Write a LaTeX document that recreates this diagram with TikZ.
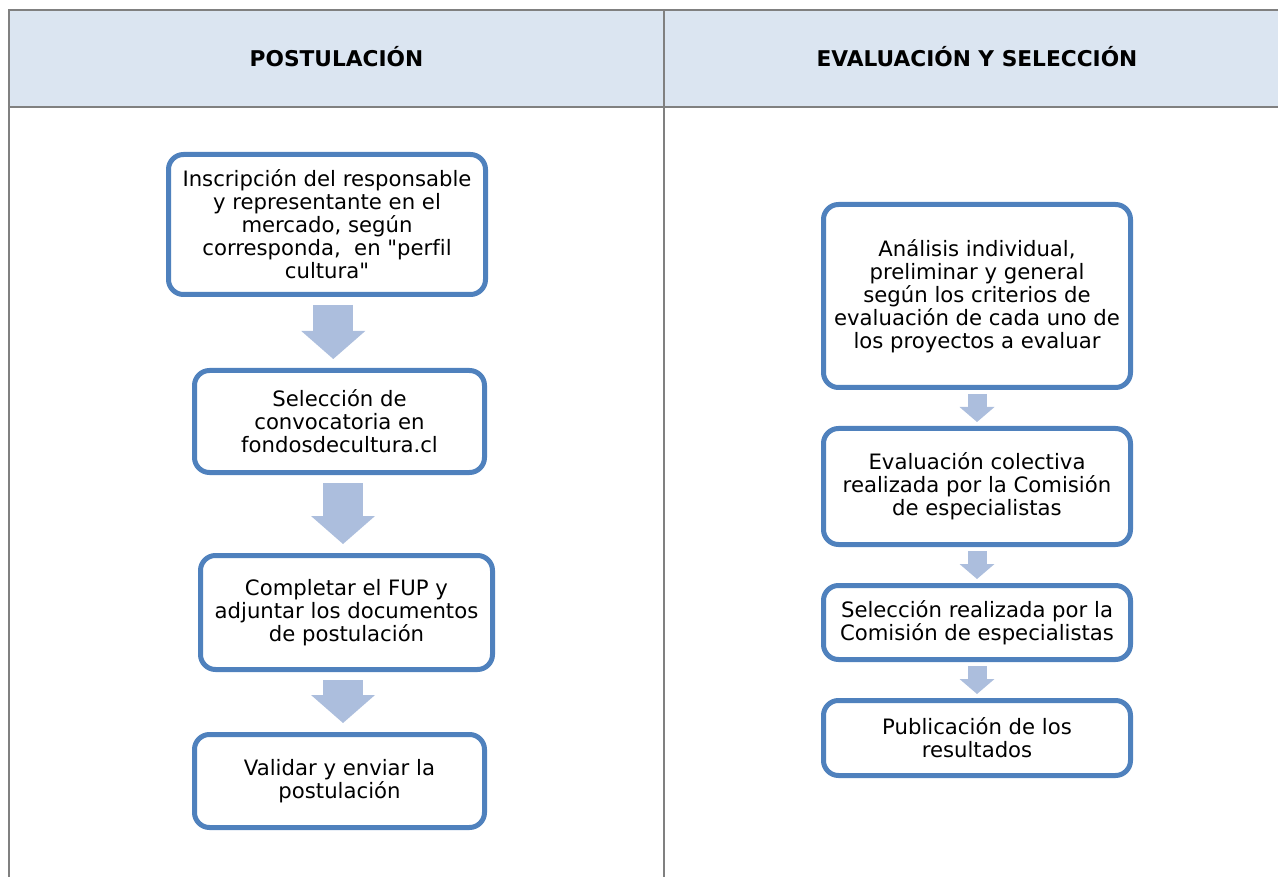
\documentclass[tikz,border=0pt]{standalone}
\usepackage{fontspec}
\setmainfont{DejaVu Sans}[Ligatures={TeXOff,CommonOff}]
\usetikzlibrary{arrows.meta,calc}

\definecolor{boxblue}{RGB}{79,129,189}
\definecolor{arrowblue}{RGB}{172,190,221}
\definecolor{headfill}{RGB}{219,229,241}
\definecolor{rulegray}{RGB}{128,128,128}

\begin{document}
\begin{tikzpicture}[x=1pt,y=-1pt,
    stepbox/.style={draw=boxblue,line width=5pt,rounded corners=15pt,fill=white,align=center,inner sep=0pt,font=\fontsize{21.2}{23}\selectfont},
    headtext/.style={font=\bfseries\fontsize{21.7}{24}\selectfont},
    bigarrow/.style={draw=arrowblue,line width=40pt,-{Triangle[width=64pt,length=28pt,line width=0pt]},shorten <=8pt,shorten >=9pt},
    smallarrow/.style={draw=arrowblue,line width=19pt,-{Triangle[width=35pt,length=15pt,line width=0pt]},shorten <=4pt,shorten >=4pt}]
    \useasboundingbox (0,0) rectangle (1278,877);

    % table
    \fill[headfill] (9,10) rectangle (1278,107);
    \draw[rulegray,line width=1.5pt] (1278,10) -- (9,10) -- (9,877);
    \draw[rulegray,line width=1.5pt] (9,107) -- (1278,107);
    \draw[rulegray,line width=1.5pt] (664,10) -- (664,877);
    \node[headtext] (posthead) at (336.5,57) {POSTULACIÓN};
    \node[headtext] (evalhead) at (977,57) {EVALUACIÓN Y SELECCIÓN};

    % postulacion
    \node[stepbox,minimum width=317pt,minimum height=140pt] (ins) at (327,224.5)
        {Inscripción del responsable\\y representante en el\\mercado, según\\corresponda,\ \ en "perfil\\cultura"};
    \node[stepbox,minimum width=290pt,minimum height=102pt] (sel) at (339.5,421.5)
        {Selección de\\convocatoria en\\fondosdecultura.cl};
    \node[stepbox,minimum width=292pt,minimum height=114pt] (comp) at (346.5,612.5)
        {Completar el FUP y\\adjuntar los documentos\\de postulación};
    \node[stepbox,minimum width=290pt,minimum height=93pt] (val) at (339.5,781)
        {Validar y enviar la\\postulación};

    % evaluacion
    \node[stepbox,minimum width=307pt,minimum height=183pt] (ana) at (977,296)
        {Análisis individual,\\preliminar y general\\según los criterios de\\evaluación de cada uno de\\los proyectos a evaluar};
    \node[stepbox,minimum width=307pt,minimum height=116pt] (evc) at (977,486.5)
        {Evaluación colectiva\\realizada por la Comisión\\de especialistas};
    \node[stepbox,minimum width=307pt,minimum height=74pt] (selc) at (977,622.5)
        {Selección realizada por la\\Comisión de especialistas};
    \node[stepbox,minimum width=307pt,minimum height=75pt] (pub) at (977,738)
        {Publicación de los\\resultados};

    \foreach \a/\b in {ins/sel,sel/comp,comp/val}{
        \coordinate (mid) at ($(\a.center)!.5!(\b.center)$);
        \draw[bigarrow] (mid |- \a.south) -- (mid |- \b.north);
    }
    \foreach \a/\b in {ana/evc,evc/selc,selc/pub}{
        \coordinate (mid) at ($(\a.center)!.5!(\b.center)$);
        \draw[smallarrow] (mid |- \a.south) -- (mid |- \b.north);
    }
\end{tikzpicture}
\end{document}
